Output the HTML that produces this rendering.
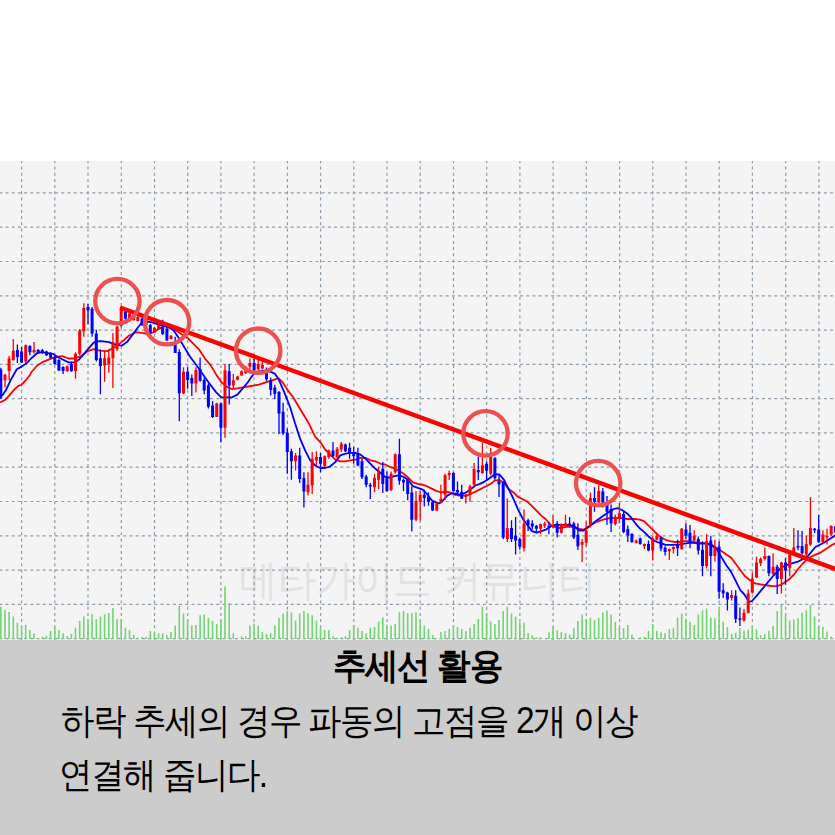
<!DOCTYPE html>
<html><head><meta charset="utf-8">
<style>
html,body{margin:0;padding:0;background:#fff;width:835px;height:835px;overflow:hidden;font-family:"Liberation Sans",sans-serif;}
#box{position:absolute;left:0;top:640px;width:835px;height:195px;background:#cccccc;}
#title{position:absolute;left:0;width:835px;top:643px;text-align:center;font-weight:bold;font-size:36px;color:#000;line-height:46px;letter-spacing:-1.5px;transform:scaleX(0.93);transform-origin:417.5px 0;}
.t{position:absolute;left:61px;font-size:36px;color:#000;line-height:46px;white-space:nowrap;letter-spacing:-1.6px;transform:scaleX(0.93);transform-origin:0 0;}
</style></head><body>
<svg width="835" height="835" viewBox="0 0 835 835" style="position:absolute;left:0;top:0">
<rect x="0" y="161" width="835" height="479" fill="#f4f4f4"/>
<text x="239" y="594.5" font-family="Liberation Sans, sans-serif" font-size="43" fill="#e2e2e2" textLength="358" lengthAdjust="spacingAndGlyphs">메타가이드 커뮤니티</text>
<path d="M21.6 161V640M54.8 161V640M88 161V640M121.3 161V640M154.5 161V640M187.7 161V640M220.9 161V640M254.1 161V640M287.4 161V640M320.6 161V640M353.8 161V640M387 161V640M420.2 161V640M453.5 161V640M486.7 161V640M519.9 161V640M553.1 161V640M586.3 161V640M619.6 161V640M652.8 161V640M686 161V640M719.2 161V640M752.4 161V640M785.7 161V640M818.9 161V640M0 192.9H835M0 227.2H835M0 261.5H835M0 295.8H835M0 330.1H835M0 364.4H835M0 398.6H835M0 432.9H835M0 467.2H835M0 501.5H835M0 535.8H835M0 570.1H835M0 604.4H835M0 638.7H835" stroke="#8e9cac" stroke-width="1.2" stroke-dasharray="3 3.2" stroke-dashoffset="0.7" fill="none"/>
<path d="M0.8 606.8V639M5 610.1V639M9.1 612.1V639M13.3 616.5V639M17.4 622.7V639M21.6 625.7V639M25.7 624.7V639M29.9 629.9V639M34 633.3V639M38.2 638.2V639M42.3 637V639M46.5 636.1V639M50.6 631.1V639M54.8 626.9V639M58.9 629.9V639M63.1 633.3V639M67.2 636.1V639M71.4 634V639M75.5 627.7V639M79.7 620.7V639M83.8 616.5V639M88 619.8V639M92.1 614.3V639M96.3 619.3V639M100.4 616.5V639M104.6 614.3V639M108.8 613.1V639M112.9 608.1V639M117.1 619.3V639M121.2 619.3V639M125.4 627.7V639M129.5 629.9V639M133.7 635V639M137.8 637.8V639M142 637V639M146.1 637V639M150.3 631.1V639M154.4 632.8V639M158.6 633.3V639M162.7 633.3V639M166.9 635V639M171 632V639M175.2 625.6V639M179.3 606V639M183.5 613.5V639M187.6 620.7V639M191.8 625.6V639M195.9 624.9V639M200.1 615.2V639M204.2 614.4V639M208.4 617.7V639M212.6 620.7V639M216.7 623.9V639M220.9 619.9V639M225 586.4V639M229.2 603.1V639M233.3 633.3V639M241.6 636.2V639M245.8 636.2V639M249.9 625.6V639M254.1 623.6V639M258.2 625.6V639M262.4 632V639M266.5 634V639M270.7 633.3V639M274.8 625.6V639M279 617.7V639M283.1 613.5V639M287.3 611V639M291.4 612.4V639M295.6 620.6V639M299.7 613.5V639M303.9 611V639M308 613.2V639M312.2 615.2V639M316.4 620.6V639M320.5 627V639M324.7 630V639M328.8 630V639M333 636.2V639M337.1 637.8V639M341.3 637.3V639M345.4 636.2V639M349.6 630V639M353.7 625.6V639M357.9 627.8V639M362 631.1V639M366.2 633.3V639M370.3 627.8V639M374.5 627V639M378.6 621.6V639M382.8 617.2V639M386.9 625.6V639M391.1 625.6V639M395.2 623.9V639M399.4 612.2V639M403.5 611V639M407.7 613.2V639M411.8 613.2V639M416 612.2V639M420.2 621.1V639M424.3 625.6V639M428.5 629V639M432.6 635V639M440.9 632V639M445.1 631.1V639M449.2 629V639M453.4 624.9V639M457.5 627V639M461.7 629V639M465.8 631.1V639M470 627.8V639M474.1 623.9V639M478.3 618.9V639M482.4 606.8V639M486.6 615.2V639M490.7 621.6V639M494.9 623.9V639M499 619.9V639M503.2 611V639M507.3 606.8V639M511.5 613.5V639M515.6 616.6V639M519.8 622.3V639M524 622.8V639M528.1 633.3V639M532.3 635.3V639M536.4 637.3V639M540.6 637.3V639M548.9 632.3V639M553 627.3V639M557.2 630.3V639M561.3 632.3V639M565.5 633.3V639M569.6 634.5V639M573.8 628.3V639M577.9 621.1V639M582.1 614.4V639M586.2 618.9V639M590.4 617.7V639M594.5 619.9V639M598.7 617.7V639M602.8 612.4V639M607 610.5V639M611.1 614.4V639M615.3 621.9V639M619.4 627.3V639M623.6 628.3V639M627.8 624.9V639M631.9 634.5V639M640.2 637.3V639M644.4 636.7V639M648.5 631.1V639M652.7 623.9V639M656.8 631.1V639M661 632.3V639M665.1 633.3V639M669.3 629V639M673.4 628.3V639M677.6 617.6V639M681.7 613.5V639M685.9 619.3V639M690 621.8V639M694.2 625V639M698.3 614.5V639M702.5 610.3V639M706.6 608.4V639M710.8 617.4V639M714.9 618.3V639M719.1 609.7V639M723.2 621.8V639M727.4 626.9V639M731.6 634V639M735.7 632.7V639M739.9 627.9V639M744 630.8V639M748.2 629.4V639M752.3 626V639M756.5 629.4V639M760.6 635.2V639M764.8 634V639M768.9 630.8V639M773.1 626V639M777.2 611V639M781.4 604.9V639M785.5 615.4V639M789.7 620.6V639M793.8 619.3V639M798 618.3V639M802.1 612.6V639M806.3 610.3V639M810.4 604.9V639M814.6 616.4V639M818.7 626.9V639M822.9 626.9V639M827 631.4V639M831.2 636.5V639" stroke="#74d474" stroke-width="1.6" fill="none"/>
<path d="M0 402.5 L4.8 400.1 L9 395.9 L13.8 390 L18.6 385.7 L21 385.2 L25.1 381 L30 375 L31.1 372.5 L37.3 365.5 L43.6 361.6 L49.8 359.2 L56 356.9 L62.2 356.1 L68.5 358.5 L74.7 358.5 L80.9 356.1 L87.1 351.5 L93.4 349.1 L99.6 350.7 L107.2 351.1 L114.4 347.5 L121.6 342.1 L128.8 335.8 L135.9 332.2 L143.1 333.1 L148.5 334 L153.9 332.2 L159.3 328.6 L164.7 325.9 L171.9 328.6 L177.3 331.3 L182.7 334.9 L188.1 338.5 L193.5 343.9 L198.9 349.3 L205 358.6 L210.4 364.9 L215.8 373.9 L221.2 382 L226.6 386.5 L232 389.2 L237.4 388.3 L242.7 387.4 L248.1 386.5 L253.5 385.6 L258.9 384.7 L264.3 382.9 L269.7 381.1 L275.1 379.3 L278.7 378.4 L282.3 382 L287.7 390.1 L293.1 397.3 L298.5 406.3 L303.9 415.3 L309.2 424.1 L315.2 436.9 L320.2 442 L325.2 449.5 L330.3 454.6 L335.3 459.6 L340.3 461.3 L345.4 461.3 L350.4 460.4 L355.4 459.6 L360.5 457.9 L365.5 457.9 L370.5 460.4 L375.5 461.3 L380.6 463.8 L385 464.5 L389.7 466.8 L394.3 468.3 L399 470.7 L403.7 473.8 L408.3 477.7 L413 482.4 L417.7 483.9 L422.3 484.7 L427 486.2 L431.7 488.6 L436.3 490.9 L441 492.5 L445.7 491.7 L450.3 492.5 L455 494.8 L459.7 495.6 L464.4 495.6 L469 494.8 L473.7 492.5 L478.4 490.1 L483 487.8 L487.7 485.5 L492 482.9 L494.7 480.6 L499.3 479.8 L504 482.9 L508.7 489.1 L513.3 492.2 L518 496.9 L522.7 499.2 L527.3 501.6 L532 506.2 L536.7 510.9 L541.3 515.6 L546 519.5 L550.7 524.9 L555.3 527.2 L560 528 L564.7 527.2 L569.4 526.5 L575 526.9 L579.3 529 L583.6 529.7 L587.9 526.9 L592.3 524 L596.6 521.8 L600.9 520.4 L605.2 519 L609.5 518.2 L613.8 518.2 L618.1 518.2 L622.4 518.2 L626.8 519 L631.1 519 L635.4 519 L639.7 519.7 L644 521.1 L648.3 525.4 L652.6 529.7 L657 534 L661.3 537.6 L665.6 539.8 L669.9 541.2 L675 542 L679.7 542 L684.3 541.2 L689 541.2 L693.7 542 L698.3 542.8 L703 542.8 L707.7 543.6 L712.3 545.1 L717 548.2 L721.7 551.3 L726.3 554.5 L731 557.6 L735.7 563.8 L740.3 570 L745 576.2 L749.7 580.1 L755 583.4 L759.3 584.1 L763.6 584.8 L767.9 585.5 L772.2 586.2 L776.5 586.2 L780.9 584.8 L785.2 581.9 L789.5 579 L793.8 574.7 L798.1 569 L802.4 564 L806.7 559.7 L811 556.8 L815.3 554.6 L819.6 553.2 L823.9 550.3 L828.3 547.5 L832.6 544.6 L836 543.1" stroke="#ff0000" stroke-width="1.8" fill="none" stroke-linejoin="round"/>
<path d="M0 397 L3 394.5 L6 390 L10.8 379.8 L16.8 369.3 L21.6 366.6 L26.3 363.6 L31.1 358.5 L37.3 353 L42 352.2 L46.7 353 L52.9 353.8 L57.6 357 L62.2 359.2 L68.5 362.4 L74.7 362.4 L79.4 359.2 L84 353.8 L88.7 348.3 L93.4 342.9 L96.5 341.3 L101.1 341.2 L109 342.1 L116.2 344.8 L121.6 345.7 L127 342.1 L132.4 334.9 L137.7 327.7 L141.3 323.2 L146.7 321.5 L152.1 322.4 L157.5 324.1 L162.9 325.9 L168.3 326.8 L173.7 330.4 L179.1 338.5 L184.5 347.5 L189.9 356.5 L195.3 363.7 L200.6 370.9 L205 377.5 L210.4 384.7 L215.8 391.9 L221.2 397.3 L226.6 397.3 L232 397.3 L237.4 394.6 L242.7 388.3 L248.1 382 L251.7 376.6 L255.3 372.1 L260.7 371.2 L266.1 370.3 L271.5 372.1 L275.1 373.9 L278.7 379.3 L284.1 391.9 L290 406.8 L295.1 423.5 L300.1 438.6 L305.1 450.4 L310.2 460.4 L315.2 465.5 L320.2 468 L325.2 468 L330.3 466.3 L335.3 462.1 L340.3 455.4 L345.4 453.7 L350.4 452.9 L355.4 452.9 L360.5 454.6 L365.5 458.7 L370.5 463.8 L375.5 468.8 L380.6 473 L385.6 477.2 L389.7 477.7 L394.3 476.1 L399 475.3 L403.7 476.9 L408.3 480 L413 486.2 L417.7 487.8 L422.3 489.4 L427 494 L431.7 500.2 L436.3 502.6 L439.5 503.4 L442.6 501 L447.2 495.6 L451.9 493.2 L456.6 494 L461.2 494.8 L465.9 492.5 L470.6 489.4 L475.2 485.5 L479.9 483.9 L484.6 481.6 L489.2 478.5 L494.7 474.3 L499.3 474.3 L504 479.8 L508.7 489.1 L513.3 498.5 L518 509.4 L522.7 518.7 L527.3 524.9 L532 531.1 L536.7 532.7 L541.3 531.1 L546 529.6 L550.7 526.5 L555.3 524.9 L560 524.9 L564.7 524.9 L569.4 524.9 L574 526.5 L579.3 530.5 L583.6 530.5 L587.9 527.6 L592.3 524 L596.6 520.4 L600.9 517.5 L605.2 514.6 L609.5 511.8 L613.8 508.9 L618.1 508.2 L622.4 510.3 L626.8 513.2 L631.1 517.5 L635.4 523.3 L639.7 528.3 L644 531.9 L648.3 536.2 L652.6 539.8 L657 542 L661.3 543.4 L665.6 544.8 L669.9 544.8 L674.2 544.8 L679.7 544.3 L684.3 543.6 L689 542.8 L693.7 542.8 L698.3 543.6 L703 543.6 L707.7 543.6 L712.3 545.9 L717 549.8 L721.7 557.6 L726.3 565.3 L731 571.6 L735.7 580.9 L740.3 590.2 L744 594 L749.2 602 L752 601 L756.8 595.6 L765.1 585.6 L773.5 575.5 L781.9 567.1 L790.3 563.8 L798.6 561.3 L807 557.1 L815.4 547 L823.8 542.8 L836 535" stroke="#0000ff" stroke-width="1.8" fill="none" stroke-linejoin="round"/>
<path d="M5 374V387.2M9.1 356.1V380.2M13.3 339V360.8M25.7 344.5V363.1M34 342.1V353.8M67.2 365.5V371.7M75.5 352.2V378.7M79.7 328.9V355.3M83.8 303.2V336.7M104.6 351.1V381.7M108.8 351.1V372.7M112.9 333.1V388M117.1 325.9V351.1M121.2 307.1V327.7M129.5 312.5V319.7M133.7 316.1V320.6M137.8 316.1V321.5M146.1 319.7V325.9M154.4 326.8V333.1M158.6 324.1V329.5M171 334.9V339.4M183.5 367.3V394.2M195.9 367.3V392.4M216.7 402.7V417.1M225 364V437.7M233.3 373.9V388.3M237.5 375.7V380.2M241.6 370.3V375.7M245.8 365.8V373.9M249.9 358.6V372.1M258.2 358.6V370.3M262.4 361.3V369.4M295.6 452.9V470.5M308 472.2V495.6M312.2 452V494M316.4 451.2V465.5M324.7 455.4V467.1M328.8 449.5V458.7M337.1 447V459.6M341.3 442V452M374.5 473.8V492.3M378.6 467.1V488.9M391.1 471.5V490.9M395.2 453.6V473.8M416 490.9V521.2M420.2 490.9V520.5M436.8 501.8V511.1M440.9 484.7V503.4M445.1 473.8V500.2M449.2 470.7V480M465.8 494V503.4M470 484.7V501.8M474.1 462.9V487.8M482.4 442.7V473.8M490.7 448.1V475.3M507.3 498.5V542M524 509.4V551.4M540.6 523.4V534.2M544.7 521.8V528M553 515.6V528M561.3 523.4V533.5M565.5 514.8V526.5M582.1 539.1V562.1M586.2 521.8V546.3M590.4 492.4V527.6M598.7 485.2V503.1M615.3 514.6V525.4M619.4 503.1V523.3M636.1 539.8V543.4M644.4 543.4V549.1M652.7 536.2V560.6M656.8 533.3V540.5M669.3 548.4V559.9M673.4 546.3V553.5M681.7 528V549.8M694.2 530.3V542M706.6 534.2V568.5M714.9 539.7V561.5M731.6 590.2V600.4M744 608.9V621.4M748.2 589.5V613.6M752.3 572.4V593.4M756.5 556.8V578.3M760.6 557.5V566.1M764.8 547.5V560.4M773.1 553.2V574.7M781.4 561.8V593.4M789.7 553.2V576.2M793.8 528.1V554.6M806.3 536V556.1M810.4 497.2V546M822.9 530.2V543.1M827 528.8V544.6M831.2 525.2V536" stroke="#ff0000" stroke-width="1.3" fill="none"/>
<path d="M0.8 367.8V398.9M17.4 344.5V363.1M21.6 346.8V363.1M29.9 345.2V355.3M38.2 349.1V353.8M42.3 349.1V353.8M46.5 350.7V356.1M50.6 352.2V358.5M54.8 356.1V364.7M58.9 359.2V370.9M63.1 366.2V374M71.4 363.1V371.7M88 304V324.2M92.1 307.1V336.7M96.3 329.7V361.6M100.4 349.3V394.2M125.4 310.7V319.7M142 317V325.9M150.3 324.1V334M162.7 319.7V334.9M166.9 325.9V341.2M175.2 336.7V352.9M179.3 349.3V421.2M187.6 367.3V388.8M191.8 374.5V396M200.1 357.4V381.7M204.2 378.1V394.2M208.4 383.5V408.6M212.6 400.9V418M220.9 402.7V442.2M229.2 364V404.5M254.1 358.6V372.1M266.5 367.6V381.1M270.7 377.5V395.5M274.8 384.7V399.1M279 391V434.1M283.1 402.7V435M287.3 428.6V473.8M291.4 448.7V479.7M299.7 447.8V483.1M303.9 472.2V507.4M320.5 452.9V472.2M333 442V457.1M345.4 443.7V452M349.6 442.8V458.7M353.7 447V463.8M357.9 447.8V466.3M362 458.7V478.9M366.2 474.7V487.3M370.3 483.1V499M382.8 462.1V493.1M386.9 471.5V491.7M399.4 438.8V484.7M403.5 478.5V490.9M407.7 478.5V500.2M411.8 486.2V531.4M424.3 489.4V506.5M428.5 492.5V505.7M432.6 500.2V511.1M453.4 472.2V491.7M457.5 481.6V494M461.7 484.7V498.7M478.3 456.7V480M486.6 461.3V480M494.9 457.2V479.8M499 475.1V496.9M503.2 481.3V538.9M511.5 520.2V542M515.6 517.1V554.5M519.8 537.4V549.8M528.1 518.7V531.1M532.3 520.2V529.6M536.4 524.9V532.7M548.9 521.8V534.2M557.2 521V537.4M569.6 517.1V526.5M573.8 521.8V538.9M577.9 523.3V549.9M594.5 487.3V511.8M602.8 488V507.4M607 495.9V524.7M611.1 504.6V531.9M623.6 511.8V533.3M627.8 525.4V542M631.9 533.3V542.7M640.2 537.6V544.8M648.5 540.5V551.3M661 536.2V551.3M665.1 546.3V555.6M677.6 539.7V556M685.9 523.3V538.9M690 524.9V548.2M698.3 536.6V554.5M702.5 541.2V576.2M710.8 535.8V576.2M719.1 541.2V598.8M723.2 583.2V598M727.4 591.8V610.5M735.7 590.2V622.9M739.9 607.4V626M768.9 555.4V576.2M777.2 564.7V594.1M785.5 558.2V584.8M798 530.2V550.3M802.1 530.9V554.6M814.6 528.1V533.1M818.7 515.1V543.1M835.4 525.9V533.1" stroke="#0000ff" stroke-width="1.3" fill="none"/>
<path d="M5 374.8V380.2M9.1 358.5V370.9M13.3 350.7V360M25.7 345.2V361.6M34 349.9V352.2M67.2 366.2V371.2M75.5 353.8V370.9M79.7 330.5V353.8M83.8 307.9V331.2M104.6 358.3V365.5M108.8 357.4V364.6M112.9 342.1V358.3M117.1 326.8V349.3M121.2 309.8V325.9M129.5 313.4V318.8M133.7 317V320.2M137.8 317V320.9M146.1 320.6V325M154.4 327.7V332.2M158.6 325V329.2M171 335.8V338.9M183.5 371.8V393.3M195.9 370V383.5M216.7 403.6V417.1M225 370.3V427.8M233.3 380.2V385.6M237.5 376.6V379.7M241.6 371.2V375.4M245.8 367.6V373M249.9 363.1V366.7M258.2 364V369.4M262.4 364.9V368.5M295.6 455.4V461.3M308 484.7V492.3M312.2 458.7V485.6M316.4 457.1V460.4M324.7 456.2V466.3M328.8 450.4V457.1M337.1 448.7V457.1M341.3 443.7V449.5M374.5 478V487.3M378.6 472.2V479.7M391.1 473.8V490.1M395.2 454.3V472.2M416 501V519.7M420.2 494.8V501.8M436.8 503.4V510.4M440.9 498.7V501.8M445.1 475.3V494.8M449.2 473V475.3M465.8 494.8V497.1M470 486.2V494.8M474.1 469.1V484.7M482.4 465.2V473M490.7 456.7V473.8M507.3 528V538.9M524 523.4V548.3M540.6 524.1V528.8M544.7 523.4V525.7M553 524.9V527.2M561.3 524.1V532.7M565.5 523.4V524.9M582.1 542V544.8M586.2 530.5V542.7M590.4 498.1V526.1M598.7 490.9V502.4M615.3 516.8V524M619.4 513.2V519M636.1 540.5V542.7M644.4 544.1V546.3M652.7 538.4V550.6M656.8 535.5V539.8M669.3 549.1V551.3M673.4 547V549.1M681.7 528.8V549M694.2 535.8V540.5M706.6 541.2V566.1M714.9 548.2V556M731.6 594.9V598M744 612.8V620.6M748.2 593.4V612.8M752.3 578.6V592.6M756.5 562.5V577.6M760.6 558.9V563.2M764.8 556.1V558.9M773.1 566.8V574M781.4 562.5V579M789.7 554.6V568.3M793.8 547.5V553.2M806.3 543.9V554.6M810.4 528.1V544.6M822.9 534.5V542.4M827 536V537.4M831.2 525.9V534.5" stroke="#ff0000" stroke-width="3" fill="none"/>
<path d="M0.8 369.4V397.4M17.4 349.9V356.9M21.6 351.5V362.4M29.9 346V352.2M38.2 349.9V353M42.3 349.9V353M46.5 351.5V355.3M50.6 353V357.7M54.8 356.9V363.9M58.9 360V370.6M63.1 367V370.9M71.4 363.9V371.2M88 307.1V310.2M92.1 308.7V333.6M96.3 333.6V360M100.4 358.3V366M125.4 311.6V318.8M142 318.8V325M150.3 325V333.1M162.7 326.8V334M166.9 328.6V340.3M175.2 342.1V352.9M179.3 352V393.3M187.6 371.8V379.9M191.8 378.1V383.5M200.1 369.1V380.8M204.2 379.9V390.6M208.4 385.3V406.8M212.6 405.4V417.1M220.9 403.6V427.8M229.2 371.2V385.6M254.1 363.1V370.3M266.5 373V379.3M270.7 380.2V390.1M274.8 387.4V393.7M279 391.9V413.5M283.1 411.7V433.2M287.3 432.8V452M291.4 451.2V461.3M299.7 455.4V478.9M303.9 478V491.4M320.5 457.1V463.8M333 450.4V456.2M345.4 444.5V451.2M349.6 447.8V452.9M353.7 452V456.2M357.9 452.9V465.5M362 461.3V477.2M366.2 476.4V484.7M370.3 484.7V486.4M382.8 468.8V483.9M386.9 476.1V490.9M399.4 454.3V480.8M403.5 480V482.4M407.7 480V494M411.8 492.5V519.7M424.3 494.8V497.9M428.5 496.4V501.8M432.6 501.8V510.4M453.4 473V490.9M457.5 490.1V492.5M461.7 491.7V498.7M478.3 469.9V472.2M486.6 463.7V470.7M494.9 458V478.2M499 481.3V484.5M503.2 482.1V537.4M511.5 528V538.9M515.6 535.8V540.5M519.8 538.9V546.7M528.1 520.2V524.9M532.3 523.4V526.5M536.4 525.7V528.8M548.9 525.7V527.2M557.2 523.4V532.7M569.6 523.4V524.9M573.8 523.4V537.4M577.9 534.8V546.3M594.5 498.1V501.7M602.8 491.6V502.4M607 504.6V511.8M611.1 508.9V523.3M623.6 513.9V531.9M627.8 529V535.5M631.9 534V542M640.2 538.4V544.1M648.5 544.1V550.6M661 537.6V548.4M665.1 547.7V552M677.6 545.1V548.2M685.9 529.6V535.8M690 532.7V541.2M698.3 538.9V550.6M702.5 549.8V566.1M710.8 540.5V556M719.1 546.7V591.8M723.2 590.2V593.4M727.4 592.6V599.6M735.7 595.7V619M739.9 618.3V619.8M768.9 556.1V573.3M777.2 566.8V579M785.5 562.5V570.4M798 546V547.5M802.1 546V553.2M814.6 528.8V530.2M818.7 529.5V541.7M835.4 526.6V532.4" stroke="#0000ff" stroke-width="3" fill="none"/>
<path d="M120 307.5L840 570.7" stroke="#ff0000" stroke-width="4.4" fill="none"/>
<circle cx="117.4" cy="301.1" r="22.2" stroke="#ec5050" stroke-width="4.3" fill="none"/>
<circle cx="167" cy="322.2" r="22.2" stroke="#ec5050" stroke-width="4.3" fill="none"/>
<circle cx="258.2" cy="350.7" r="22.2" stroke="#ec5050" stroke-width="4.3" fill="none"/>
<circle cx="485.5" cy="433.4" r="22.2" stroke="#ec5050" stroke-width="4.3" fill="none"/>
<circle cx="598.2" cy="483.1" r="22.2" stroke="#ec5050" stroke-width="4.3" fill="none"/>
</svg>
<div id="box"></div>
<div id="title">추세선 활용</div>
<div class="t" style="top:698px">하락 추세의 경우 파동의 고점을 2개 이상</div>
<div class="t" style="top:751.5px;left:59px">연결해 줍니다.</div>
</body></html>
